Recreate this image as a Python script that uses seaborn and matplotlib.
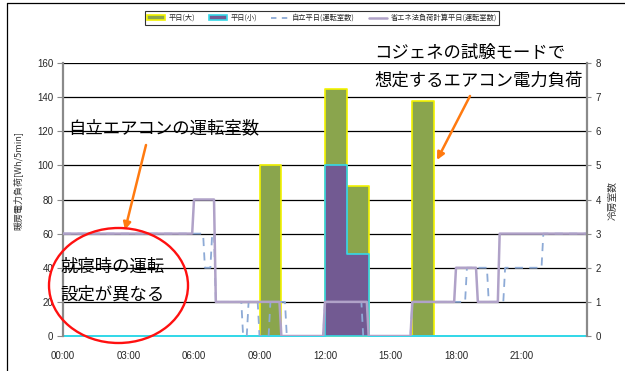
import numpy as np
import pandas as pd
import seaborn as sns
import matplotlib
matplotlib.use("Agg")
import matplotlib.pyplot as plt
from matplotlib.patches import Patch, Ellipse
from matplotlib.lines import Line2D

# Hourly heating load [Wh/5min] on a weekday
hour_slots = list(range(24))
load_large = [0, 0, 0, 0, 0, 0, 0, 0, 0, 100, 0, 0, 145, 88, 0, 0, 138, 0, 0, 0, 0, 0, 0, 0]
load_small = [0, 0, 0, 0, 0, 0, 0, 0, 0, 0, 0, 0, 100, 48, 0, 0, 0, 0, 0, 0, 0, 0, 0, 0]

# Number of rooms with the air conditioner on (step changes, 5-min resolution)
indep_times = ["00:00", "06:30", "06:50", "07:00", "08:15", "08:30", "09:00", "09:30",
               "10:15", "12:00", "13:45", "16:00", "18:30", "19:30", "20:15", "22:00"]
indep_rooms = [3, 2, 3, 1, 0, 1, 0, 1, 0, 1, 0, 1, 2, 1, 2, 3]

calc_times = ["00:00", "06:00", "07:00", "10:00", "12:00", "14:00", "16:00", "18:00", "19:00", "20:00"]
calc_rooms = [3, 4, 1, 0, 1, 0, 1, 2, 1, 3]

xtick_hours = [0, 3, 6, 9, 12, 15, 18, 21]
xtick_labels = ["00:00", "03:00", "06:00", "09:00", "12:00", "15:00", "18:00", "21:00"]

legend_labels = ["平日(大)", "平日(小)", "自立平日(運転室数)", "省エネ法負荷計算平日(運転室数)"]

GREEN = "#8AA54D"
YELLOW = "#F2F200"
PURPLE = "#725A92"
CYAN = "#35D8E8"
DASH_BLUE = "#8DAAD6"
LAVENDER = "#B0A2C8"
ORANGE = "#FF7A10"
GREY = "#8A8A8A"

steps = np.arange(0, 24 * 12 + 1) / 12.0


def to_hours(s):
    h, m = s.split(":")
    return int(h) + int(m) / 60.0


def step_series(times, values):
    starts = np.array([to_hours(t) for t in times])
    idx = np.searchsorted(starts, steps + 1e-9, side="right") - 1
    return np.asarray(values)[idx]


indep_series = step_series(indep_times, indep_rooms)
calc_series = step_series(calc_times, calc_rooms)

load_df = pd.DataFrame({
    "hour": np.array(hour_slots) + 0.5,
    "large": load_large,
    "small": load_small,
})
rooms_df = pd.DataFrame({"t": steps, "indep": indep_series, "calc": calc_series})

sns.set_style("white")
plt.rcParams["font.family"] = ["Noto Sans CJK JP", "DejaVu Sans"]
tick_family = ["Liberation Sans Narrow", "Liberation Sans", "DejaVu Sans"]

W, H = 625, 371
fig = plt.figure(figsize=(W / 100, H / 100), dpi=100)
x0, x1, y_top, y_bot = 63, 587, 63, 336
ax = fig.add_axes([x0 / W, 1 - y_bot / H, (x1 - x0) / W, (y_bot - y_top) / H])

ax.set_axisbelow(True)
ax.yaxis.grid(True, color="black", lw=0.9)
ax.xaxis.grid(False)

sns.histplot(data=load_df, x="hour", weights="large", binwidth=1, binrange=(0, 24), ax=ax,
             element="step", color=GREEN, edgecolor=YELLOW, linewidth=1.2, alpha=1)
sns.histplot(data=load_df, x="hour", weights="small", binwidth=1, binrange=(0, 24), ax=ax,
             element="step", color=PURPLE, edgecolor=CYAN, linewidth=1.2, alpha=1)

ax.set_xlim(0, 24)
ax.set_ylim(0, 160)
ax.set_yticks(range(0, 161, 20))
ax.set_xticks(xtick_hours)
ax.set_xticklabels(xtick_labels)
ax.set_xticks(range(0, 25), minor=True)
ax.tick_params(axis="x", which="both", direction="in", length=3, color=GREY, pad=11, labelsize=7)
ax.tick_params(axis="y", direction="out", length=4, color=GREY, pad=3, labelsize=7, left=True)
for lab in ax.get_xticklabels() + ax.get_yticklabels():
    lab.set_family(tick_family)

for side in ["top", "bottom"]:
    ax.spines[side].set_visible(False)
ax.spines["left"].set_color(GREY)
ax.spines["left"].set_linewidth(1.6)
ax.spines["right"].set_visible(False)

ax.set_xlabel("")
ax.set_ylabel("暖房電力負荷[Wh/5min]", fontsize=6.5, color="#333333")
ax.yaxis.set_label_coords((22 - x0) / (x1 - x0), (y_bot - 180) / (y_bot - y_top))

ax2 = ax.twinx()
sns.lineplot(data=rooms_df, x="t", y="indep", ax=ax2, color=DASH_BLUE, lw=1.3,
             linestyle=(0, (4.5, 3.5)))
sns.lineplot(data=rooms_df, x="t", y="calc", ax=ax2, color=LAVENDER, lw=1.8)
ax2.set_xlim(0, 24)
ax2.set_ylim(0, 8)
ax2.set_yticks(range(0, 9))
ax2.grid(False)
ax2.tick_params(axis="y", direction="out", length=3, color=GREY, pad=3, labelsize=7, right=True)
for lab in ax2.get_yticklabels():
    lab.set_family(tick_family)
for side in ["top", "bottom", "left"]:
    ax2.spines[side].set_visible(False)
ax2.spines["right"].set_color(GREY)
ax2.spines["right"].set_linewidth(1.6)
ax2.set_xlabel("")
ax2.set_ylabel("冷房室数", fontsize=7, color="#333333", rotation=90)
ax2.yaxis.set_label_coords((608 - x0) / (x1 - x0), (y_bot - 201) / (y_bot - y_top))

handles = [
    Patch(facecolor=GREEN, edgecolor=YELLOW, lw=1.2),
    Patch(facecolor=PURPLE, edgecolor=CYAN, lw=1.2),
    Line2D([], [], color=DASH_BLUE, lw=1.3, linestyle=(0, (3, 3))),
    Line2D([], [], color=LAVENDER, lw=1.8),
]
leg = fig.legend(handles, legend_labels, loc="center", bbox_to_anchor=(322 / W, 1 - 18 / H),
                 ncol=4, fontsize=5.2, frameon=True, fancybox=False, edgecolor="black",
                 handlelength=2.4, handleheight=0.6, handletextpad=0.5, columnspacing=2.0,
                 borderpad=0.35)
leg.get_frame().set_linewidth(0.8)

# outer border of the chart area
fig.add_artist(Line2D([7 / W, 7 / W], [0, 1 - 3 / H], transform=fig.transFigure, color="black", lw=0.9))
fig.add_artist(Line2D([7 / W, 1], [1 - 3 / H, 1 - 3 / H], transform=fig.transFigure, color="black", lw=0.9))

# callouts
note_kw = dict(fontsize=12.5, color="black", va="center", ha="left")
fig.text(374 / W, 1 - 53 / H, "コジェネの試験モードで", **note_kw)
fig.text(374 / W, 1 - 81 / H, "想定するエアコン電力負荷", **note_kw)
fig.text(68 / W, 1 - 128 / H, "自立エアコンの運転室数", **note_kw)
fig.text(60 / W, 1 - 267 / H, "就寝時の運転", **note_kw)
fig.text(60 / W, 1 - 295 / H, "設定が異なる", **note_kw)

fig.add_artist(Ellipse((118.5 / W, 1 - 285.5 / H), 139 / W, 115 / H, transform=fig.transFigure,
                       fill=False, edgecolor="#FF1010", lw=1.7))

arrow_kw = dict(arrowstyle="-|>", color=ORANGE, lw=1.8, mutation_scale=11, shrinkA=0, shrinkB=0)
ax.annotate("", xy=(125, H - 230), xytext=(146, H - 145), xycoords="figure pixels",
            textcoords="figure pixels", arrowprops=arrow_kw, annotation_clip=False)
ax.annotate("", xy=(437, H - 160), xytext=(470, H - 96), xycoords="figure pixels",
            textcoords="figure pixels", arrowprops=arrow_kw, annotation_clip=False)

fig.savefig("out.png", dpi=100)
